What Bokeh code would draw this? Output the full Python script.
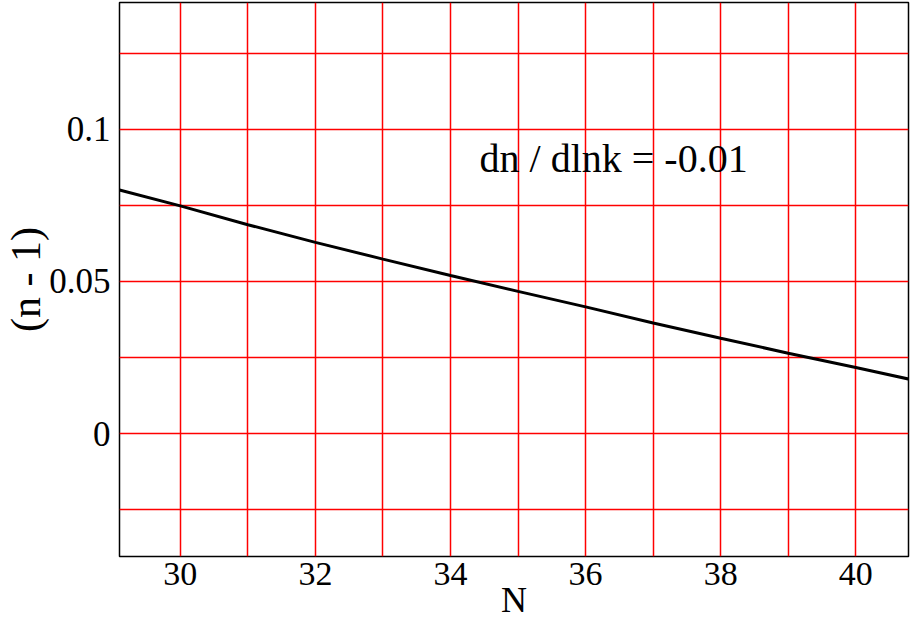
from bokeh.plotting import figure
from bokeh.models import Range1d, SingleIntervalTicker, FixedTicker, Label
from bokeh.embed import file_html
from bokeh.resources import INLINE

# Data
N = [29.1, 30, 31, 32, 33, 34, 35, 36, 37, 38, 39, 40, 40.8]
n_minus_1 = [0.0800, 0.0748, 0.0686, 0.0628, 0.0573, 0.0519, 0.0467, 0.0416,
             0.0363, 0.0313, 0.0264, 0.0217, 0.0178]
y_ticks = [0, 0.05, 0.1]
y_tick_labels = ["0", "0.05", "0.1"]
annotation = "dn / dlnk = -0.01"
x_title = "N"
y_title = "(n - 1)"

FONT = "Liberation Serif"

p = figure(width=913, height=625, output_backend="svg", toolbar_location=None,
           x_range=Range1d(29.1, 40.78), y_range=Range1d(-0.0404, 0.1416),
           min_border_left=119, min_border_right=5, min_border_top=2,
           min_border_bottom=69)

p.line(N, n_minus_1, line_color="black", line_width=3)

p.xaxis.ticker = SingleIntervalTicker(interval=2)
p.yaxis.ticker = FixedTicker(ticks=y_ticks)
p.yaxis.major_label_overrides = {t: l for t, l in zip(y_ticks, y_tick_labels)}

p.xgrid.ticker = SingleIntervalTicker(interval=1)
p.ygrid.ticker = SingleIntervalTicker(interval=0.025)
for g in (p.xgrid, p.ygrid):
    g.grid_line_color = "#ff0000"
    g.grid_line_width = 1.5
    g.grid_line_alpha = 1.0

for ax in (p.xaxis, p.yaxis):
    ax.axis_line_color = None
    ax.major_tick_line_color = None
    ax.minor_tick_line_color = None
    ax.major_label_text_font = FONT
    ax.major_label_text_color = "black"
    ax.axis_label_text_font = FONT
    ax.axis_label_text_font_style = "normal"
    ax.axis_label_text_color = "black"

p.xaxis.major_label_text_font_size = "34px"
p.xaxis.major_label_standoff = 0
p.xaxis.axis_label = x_title
p.xaxis.axis_label_text_font_size = "36px"
p.xaxis.axis_label_standoff = -8

p.yaxis.major_label_text_font_size = "35px"
p.yaxis.major_label_standoff = 3
p.yaxis.axis_label = y_title
p.yaxis.axis_label_text_font_size = "42px"
p.yaxis.axis_label_standoff = -3

p.outline_line_color = "black"
p.outline_line_width = 1.5

# annotation inside the plot
p.add_layout(Label(x=34.43, y=0.0902, text=annotation, text_font=FONT,
                   text_font_size="40px", text_color="black",
                   text_baseline="middle"))

p.background_fill_color = "white"
p.border_fill_color = "white"

open("out.html", "w").write(file_html(p, INLINE))
